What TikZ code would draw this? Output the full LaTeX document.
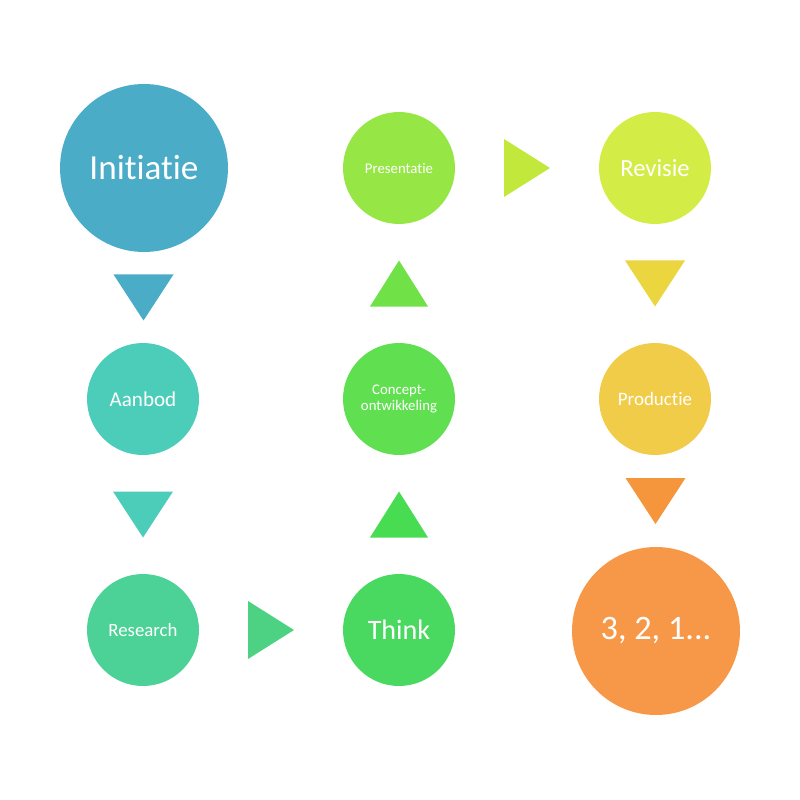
\documentclass[tikz,border=0pt]{standalone}
\usepackage{fontspec}
\setmainfont{Carlito}[Ligatures=NoCommon]
\usetikzlibrary{calc}

\definecolor{initc}{RGB}{74,172,198}
\definecolor{aanc}{RGB}{75,205,185}
\definecolor{resc}{RGB}{76,210,150}
\definecolor{resarr}{RGB}{76,210,130}
\definecolor{thinkc}{RGB}{74,217,96}
\definecolor{thinkarr}{RGB}{72,220,82}
\definecolor{concc}{RGB}{96,224,80}
\definecolor{concarr}{RGB}{112,226,72}
\definecolor{presc}{RGB}{150,230,70}
\definecolor{presarr}{RGB}{195,232,60}
\definecolor{revc}{RGB}{212,236,70}
\definecolor{revarr}{RGB}{236,214,64}
\definecolor{prodc}{RGB}{240,204,72}
\definecolor{prodarr}{RGB}{245,150,60}
\definecolor{endc}{RGB}{247,152,72}

\tikzset{
	tridown/.pic={\fill (-30,-23) -- (30,-23) -- (0,23) -- cycle;},
	triup/.pic={\fill (-29,23) -- (29,23) -- (0,-23) -- cycle;},
	triright/.pic={\fill (-23,-29) -- (23,0) -- (-23,29) -- cycle;}
}

\begin{document}
\begin{tikzpicture}[x=0.02cm,y=-0.02cm]
	\useasboundingbox (0,0) rectangle (800,800);
	\begin{scope}[every node/.style={circle,text=white,inner sep=0pt,align=center,minimum size=2.24cm}]
	\node[fill=initc,minimum size=3.36cm,font=\fontsize{20}{24}\selectfont] (init) at (144,168) {Initiatie};
	\node[fill=aanc,font=\fontsize{12}{14}\selectfont] (aanbod) at (143,399) {Aanbod};
	\node[fill=resc,font=\fontsize{10.7}{13}\selectfont] (research) at (143,630) {Research};
	\node[fill=thinkc,font=\fontsize{16}{19}\selectfont] (think) at (399,630) {Think};
	\node[fill=concc,font=\fontsize{8.4}{9.6}\selectfont] (concept) at (399,399) {Concept-\\ontwikkeling};
	\node[fill=presc,font=\fontsize{8.4}{10}\selectfont] (pres) at (399,168) {Presentatie};
	\node[fill=revc,font=\fontsize{14}{17}\selectfont] (revisie) at (655,168) {Revisie};
	\node[fill=prodc,font=\fontsize{10.8}{13}\selectfont] (productie) at (655,399) {Productie};
	\node[fill=endc,minimum size=3.36cm,font=\fontsize{19.5}{23}\selectfont] (aftel) at (656,631) {3, 2, 1...};
	\end{scope}
	% pijlen tussen de stappen
	\pic[fill=initc] at ($(init.south)!0.5!(aanbod.north)$) {tridown};
	\pic[fill=aanc] at ($(aanbod.south)!0.5!(research.north)$) {tridown};
	\pic[fill=resarr] at ($(research.east)!0.5!(think.west)$) {triright};
	\pic[fill=thinkarr] at ($(think.north)!0.5!(concept.south)$) {triup};
	\pic[fill=concarr] at ($(concept.north)!0.5!(pres.south)$) {triup};
	\pic[fill=presarr] at ($(pres.east)!0.5!(revisie.west)$) {triright};
	\pic[fill=revarr] at ($(revisie.south)!0.5!(productie.north)$) {tridown};
	\pic[fill=prodarr] at ($(productie.south)!0.5!(aftel.north)$) {tridown};
\end{tikzpicture}
\end{document}
